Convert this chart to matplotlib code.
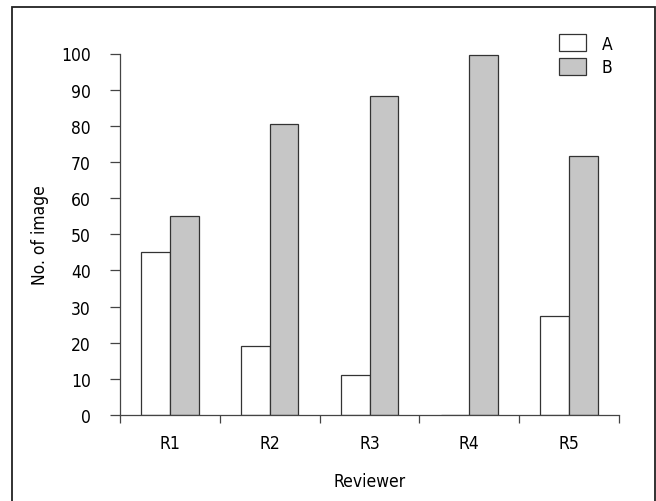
import matplotlib
matplotlib.use("Agg")
import matplotlib.pyplot as plt
from matplotlib.patches import Rectangle
import numpy as np

reviewers = ["R1", "R2", "R3", "R4", "R5"]
a_counts = [45, 19, 11, 0, 27.3]
b_counts = [55, 80.5, 88.2, 99.7, 71.6]

plt.rcParams['font.family'] = ['DejaVu Sans']
plt.rcParams['font.stretch'] = 'condensed'
plt.rcParams['font.size'] = 12.5

fig = plt.figure(figsize=(6.56, 5.02), dpi=100)
fig.patches.append(Rectangle((12 / 656, -0.01), 643 / 656, 1 - 8 / 502 + 0.01,
                             transform=fig.transFigure, fill=False,
                             edgecolor="#222222", linewidth=1.3))

ax = fig.add_axes([120 / 656, 1 - 416 / 502, 499 / 656, 361.5 / 502])

x = np.arange(len(reviewers))
w = 0.287
ax.bar(x - w / 2, a_counts, w, color="white", edgecolor="#333333", linewidth=0.9, label="A")
ax.bar(x + w / 2, b_counts, w, color="#c6c6c6", edgecolor="#333333", linewidth=0.9, label="B")

ax.set_xlim(-0.5, 4.5)
ax.set_ylim(0, 100)
ax.set_yticks(range(0, 101, 10))
ax.set_xticks(x)
ax.set_xticklabels(reviewers)
ax.set_xticks(np.arange(-0.5, 5, 1), minor=True)
ax.tick_params(axis="x", which="major", length=0, pad=14)
ax.tick_params(axis="x", which="minor", length=6, color="#444444", width=0.9)
ax.tick_params(axis="y", length=7, color="#444444", width=0.9, pad=14)
for s in ["top", "right"]:
    ax.spines[s].set_visible(False)
for s in ["left", "bottom"]:
    ax.spines[s].set_color("#444444")
    ax.spines[s].set_linewidth(0.9)

ax.set_xlabel("Reviewer", labelpad=14)
ax.set_ylabel("No. of image", labelpad=9)

ax.legend(loc="upper left", bbox_to_anchor=(432 / 499, 1 + 26 / 361.5), frameon=False,
          handlelength=1.55, handleheight=1.1, labelspacing=0.3, handletextpad=0.9,
          borderaxespad=0)

fig.savefig("out.png", dpi=100)
